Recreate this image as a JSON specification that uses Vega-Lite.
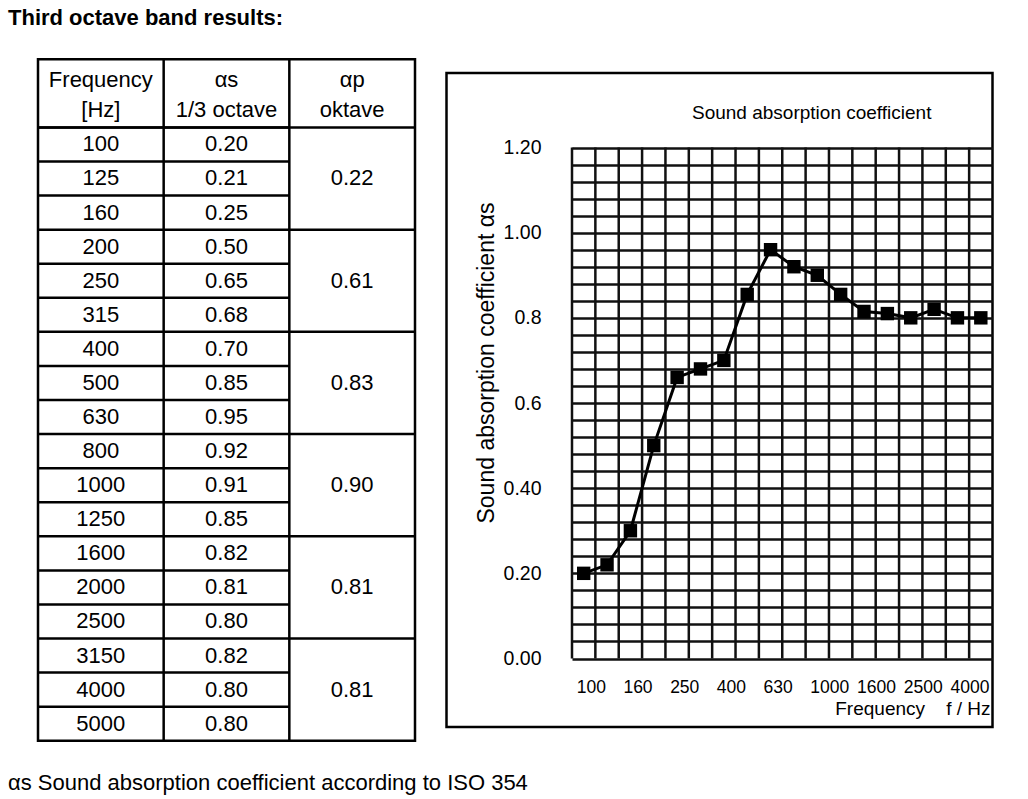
{
  "$schema": "https://vega.github.io/schema/vega-lite/v6.json",
  "background": "white",
  "padding": {"left": 6, "top": 7, "right": 10, "bottom": 5},
  "config": {
    "font": "Liberation Sans",
    "title": {"color": "black"},
    "axis": {"labelColor": "black", "titleColor": "black"}
  },
  "datasets": {
    "bands": [
      {"r": 1, "freq": "100", "a13": 0.20, "oct": 0.22, "plotted": 0.20},
      {"r": 2, "freq": "125", "a13": 0.21, "oct": 0.22, "plotted": 0.22},
      {"r": 3, "freq": "160", "a13": 0.25, "oct": 0.22, "plotted": 0.30},
      {"r": 4, "freq": "200", "a13": 0.50, "oct": 0.61, "plotted": 0.50},
      {"r": 5, "freq": "250", "a13": 0.65, "oct": 0.61, "plotted": 0.66},
      {"r": 6, "freq": "315", "a13": 0.68, "oct": 0.61, "plotted": 0.68},
      {"r": 7, "freq": "400", "a13": 0.70, "oct": 0.83, "plotted": 0.70},
      {"r": 8, "freq": "500", "a13": 0.85, "oct": 0.83, "plotted": 0.855},
      {"r": 9, "freq": "630", "a13": 0.95, "oct": 0.83, "plotted": 0.96},
      {"r": 10, "freq": "800", "a13": 0.92, "oct": 0.90, "plotted": 0.92},
      {"r": 11, "freq": "1000", "a13": 0.91, "oct": 0.90, "plotted": 0.90},
      {"r": 12, "freq": "1250", "a13": 0.85, "oct": 0.90, "plotted": 0.855},
      {"r": 13, "freq": "1600", "a13": 0.82, "oct": 0.81, "plotted": 0.815},
      {"r": 14, "freq": "2000", "a13": 0.81, "oct": 0.81, "plotted": 0.81},
      {"r": 15, "freq": "2500", "a13": 0.80, "oct": 0.81, "plotted": 0.80},
      {"r": 16, "freq": "3150", "a13": 0.82, "oct": 0.81, "plotted": 0.82},
      {"r": 17, "freq": "4000", "a13": 0.80, "oct": 0.81, "plotted": 0.80},
      {"r": 18, "freq": "5000", "a13": 0.80, "oct": 0.81, "plotted": 0.80}
    ]
  },
  "title": {
    "text": "Third octave band results:",
    "anchor": "start",
    "frame": "group",
    "dx": -30,
    "fontSize": 22,
    "fontWeight": "bold",
    "baseline": "middle",
    "offset": 16.5
  },
  "bounds": "flush",
  "center": true,
  "spacing": 31.5,
  "hconcat": [
    {
      "width": 377,
      "height": 681.5,
      "view": {"stroke": "black", "strokeWidth": 2.5},
      "title": {
        "text": "αs Sound absorption coefficient according to ISO 354",
        "orient": "bottom",
        "anchor": "start",
        "frame": "group",
        "dx": -30,
        "fontSize": 22,
        "fontWeight": "normal",
        "baseline": "middle",
        "offset": 40.75
      },
      "layer": [
        {
          "data": {"name": "bands"},
          "mark": {"type": "rule", "color": "black", "strokeWidth": 2.5},
          "encoding": {
            "y": {"field": "r", "type": "quantitative", "scale": {"domain": [-1, 19], "reverse": true, "nice": false, "zero": false}, "axis": null},
            "x": {"datum": 0, "type": "quantitative", "scale": {"domain": [0, 3], "nice": false, "zero": false}, "axis": null},
            "x2": {"datum": 2}
          }
        },
        {
          "data": {"name": "bands"},
          "transform": [{"filter": "datum.r > 1 && (datum.r - 1) % 3 == 0"}],
          "mark": {"type": "rule", "color": "black", "strokeWidth": 2.5},
          "encoding": {
            "y": {"field": "r", "type": "quantitative"},
            "x": {"datum": 2, "type": "quantitative"},
            "x2": {"datum": 3}
          }
        },
        {
          "data": {"values": [{}]},
          "mark": {"type": "rule", "color": "black", "strokeWidth": 2.5},
          "encoding": {"x": {"datum": 1, "type": "quantitative"}}
        },
        {
          "data": {"values": [{}]},
          "mark": {"type": "rule", "color": "black", "strokeWidth": 2.5},
          "encoding": {"x": {"datum": 2, "type": "quantitative"}}
        },
        {
          "data": {"values": [{}]},
          "mark": {"type": "rule", "color": "black", "strokeWidth": 2.5},
          "encoding": {"y": {"datum": 1, "type": "quantitative"}}
        },
        {
          "data": {"name": "bands"},
          "mark": {"type": "text", "fontSize": 22, "color": "black", "baseline": "middle", "dy": 17},
          "encoding": {
            "x": {"datum": 0.5, "type": "quantitative"},
            "y": {"field": "r", "type": "quantitative"},
            "text": {"field": "freq"}
          }
        },
        {
          "data": {"name": "bands"},
          "mark": {"type": "text", "fontSize": 22, "color": "black", "baseline": "middle", "dy": 17},
          "encoding": {
            "x": {"datum": 1.5, "type": "quantitative"},
            "y": {"field": "r", "type": "quantitative"},
            "text": {"field": "a13", "type": "quantitative", "format": ".2f"}
          }
        },
        {
          "data": {"name": "bands"},
          "transform": [{"filter": "datum.r % 3 == 2"}],
          "mark": {"type": "text", "fontSize": 22, "color": "black", "baseline": "middle", "dy": 17},
          "encoding": {
            "x": {"datum": 2.5, "type": "quantitative"},
            "y": {"field": "r", "type": "quantitative"},
            "text": {"field": "oct", "type": "quantitative", "format": ".2f"}
          }
        },
        {
          "data": {"values": [{}]},
          "mark": {"type": "text", "fontSize": 22, "color": "black", "baseline": "middle", "lineHeight": 30, "dy": -13},
          "encoding": {
            "x": {"datum": 0.5, "type": "quantitative"},
            "y": {"datum": 0, "type": "quantitative"},
            "text": {"value": ["Frequency", "[Hz]"]}
          }
        },
        {
          "data": {"values": [{}]},
          "mark": {"type": "text", "fontSize": 22, "color": "black", "baseline": "middle", "lineHeight": 30, "dy": -13},
          "encoding": {
            "x": {"datum": 1.5, "type": "quantitative"},
            "y": {"datum": 0, "type": "quantitative"},
            "text": {"value": ["αs", "1/3 octave"]}
          }
        },
        {
          "data": {"values": [{}]},
          "mark": {"type": "text", "fontSize": 22, "color": "black", "baseline": "middle", "lineHeight": 30, "dy": -13},
          "encoding": {
            "x": {"datum": 2.5, "type": "quantitative"},
            "y": {"datum": 0, "type": "quantitative"},
            "text": {"value": ["αp", "oktave"]}
          }
        }
      ]
    },
    {
      "width": 546,
      "height": 654,
      "view": {"stroke": "black", "strokeWidth": 2.5},
      "title": {
        "text": "Sound absorption coefficient",
        "anchor": "start",
        "frame": "group",
        "dx": 245.5,
        "dy": 16.5,
        "fontSize": 19,
        "fontWeight": "normal",
        "baseline": "middle",
        "offset": -42.75
      },
      "data": {"name": "bands"},
      "encoding": {
        "x": {
          "field": "freq",
          "type": "nominal",
          "sort": null,
          "scale": {"type": "band", "paddingInner": 0, "paddingOuter": 0, "range": [125.5, 546]},
          "axis": {
            "orient": "bottom",
            "offset": -68.5,
            "domain": false,
            "ticks": false,
            "tickSize": 0,
            "grid": false,
            "labelExpr": "indexof(['100','160','250','400','630','1000','1600','2500','4000'], datum.value) >= 0 ? datum.value : ''",
            "labelAngle": 0,
            "labelAlign": "left",
            "labelOffset": -7,
            "labelFontSize": 17.5,
            "labelPadding": 20,
            "labelOverlap": false,
            "title": "Frequency\u00a0\u00a0\u00a0\u00a0f\u00a0/\u00a0Hz",
            "titleFontSize": 19,
            "titleFontWeight": "normal",
            "titleAlign": "right",
            "titleBaseline": "middle",
            "titleX": 543.5,
            "titleY": 50
          }
        },
        "y": {
          "field": "plotted",
          "type": "quantitative",
          "scale": {"domain": [0, 1.2], "nice": false, "zero": false, "range": [585.5, 74.5]},
          "axis": {
            "orient": "left",
            "offset": -125.5,
            "values": [0, 0.04, 0.08, 0.12, 0.16, 0.2, 0.24, 0.28, 0.32, 0.36, 0.4, 0.44, 0.48, 0.52, 0.56, 0.6, 0.64, 0.68, 0.72, 0.76, 0.8, 0.84, 0.88, 0.92, 0.96, 1, 1.04, 1.08, 1.12, 1.16, 1.2],
            "domain": false,
            "ticks": false,
            "tickSize": 0,
            "grid": true,
            "gridColor": "#111111",
            "gridWidth": 2.5,
            "gridOpacity": 1,
            "labelExpr": "datum.value == 1.2 ? '1.20' : datum.value == 1 ? '1.00' : datum.value == 0.8 ? '0.8' : datum.value == 0.6 ? '0.6' : datum.value == 0.4 ? '0.40' : datum.value == 0.2 ? '0.20' : datum.value == 0 ? '0.00' : ''",
            "labelFontSize": 19.5,
            "labelPadding": 31,
            "labelOverlap": false,
            "title": "Sound absorption coefficient αs",
            "titleFontSize": 23,
            "titleFontWeight": "normal",
            "titleAngle": -90,
            "titleAlign": "center",
            "titleBaseline": "middle",
            "titleX": -86,
            "titleY": 289.5
          }
        }
      },
      "layer": [
        {
          "mark": {"type": "rule", "color": "#111111", "strokeWidth": 2.5},
          "encoding": {
            "x": {"field": "freq", "type": "nominal", "sort": null, "bandPosition": 0},
            "y": {"datum": 0, "type": "quantitative"},
            "y2": {"datum": 1.2}
          }
        },
        {"mark": {"type": "line", "color": "black", "strokeWidth": 3}},
        {"mark": {"type": "square", "size": 180, "color": "black", "filled": true, "opacity": 1}}
      ]
    }
  ]
}
